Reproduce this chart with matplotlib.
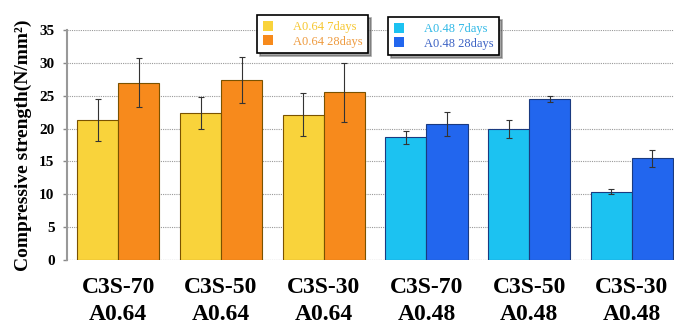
import matplotlib
matplotlib.use("Agg")
import matplotlib.pyplot as plt
import numpy as np
from matplotlib.patches import Patch

categories = ["C3S-70\nA0.64", "C3S-50\nA0.64", "C3S-30\nA0.64",
              "C3S-70\nA0.48", "C3S-50\nA0.48", "C3S-30\nA0.48"]
days7 = [21.3, 22.4, 22.1, 18.7, 19.9, 10.4]
days7_err = [3.2, 2.4, 3.3, 1.0, 1.4, 0.4]
days28 = [27.0, 27.4, 25.5, 20.7, 24.5, 15.5]
days28_err = [3.7, 3.5, 4.5, 1.8, 0.5, 1.3]
yticks = [0, 5, 10, 15, 20, 25, 30, 35]

c_yellow, c_orange = "#F9D33B", "#F78A1C"
c_cyan, c_blue = "#1CC2F1", "#2266EE"
edge_warm, edge_cool = "#7A5200", "#1A3A80"

plt.rcParams['font.family'] = ['Liberation Serif', 'DejaVu Serif']
fig = plt.figure(figsize=(6.74, 3.25), dpi=100)
ax = fig.add_axes([67/674, 1-260/325, 1-67/674, 230/325])

x = np.arange(len(categories))
w = 0.4
c7 = [c_yellow]*3 + [c_cyan]*3
c28 = [c_orange]*3 + [c_blue]*3
ec = [edge_warm]*3 + [edge_cool]*3
ekw = dict(ecolor="#333333", elinewidth=0.8, capsize=2, capthick=0.8)
ax.bar(x - w/2, days7, w, color=c7, edgecolor=ec, linewidth=0.8,
       yerr=days7_err, error_kw=ekw, zorder=3)
ax.bar(x + w/2, days28, w, color=c28, edgecolor=ec, linewidth=0.8,
       yerr=days28_err, error_kw=ekw, zorder=3)

ax.set_xlim(-0.5, 5.41)
ax.set_ylim(0, 35)
ax.set_yticks(yticks)
ax.set_yticklabels([str(t) for t in yticks], fontsize=11, fontweight='bold')
ax.set_xticks(x)
ax.set_xticklabels(categories, fontsize=17, fontweight='bold', linespacing=1.4)
ax.tick_params(axis='x', length=0, pad=12)
ax.tick_params(axis='y', length=3, color='#888888', width=1, pad=6)
for s in ['top', 'right', 'bottom']:
    ax.spines[s].set_visible(False)
ax.spines['left'].set_color('#999999')
ax.spines['left'].set_linewidth(1.5)
ax.yaxis.grid(True, linestyle=(0, (1, 1)), color='#999999', linewidth=0.8, zorder=0)
ax.axhline(0, linestyle=(0, (1, 1)), color='#999999', linewidth=0.8, zorder=0)
ax.set_axisbelow(True)
ax.set_ylabel("Compressive strength(N/mm²)", fontsize=14, fontweight='bold', labelpad=5)

leg_kw = dict(loc='upper left', bbox_transform=ax.transAxes, fontsize=9,
              frameon=True, fancybox=False, shadow=True, edgecolor='black',
              framealpha=1, handlelength=0.8, handleheight=0.9,
              handletextpad=1.6, borderpad=0.45, labelspacing=0.15,
              borderaxespad=0)
h1 = [Patch(facecolor=c_yellow), Patch(facecolor=c_orange)]
leg1 = ax.legend(h1, ["A0.64 7days", "A0.64 28days"],
                 bbox_to_anchor=((257-67)/607, (260-15)/230), **leg_kw)
for t, c in zip(leg1.get_texts(), ["#F6C62E", "#EE9A3E"]):
    t.set_color(c)
ax.add_artist(leg1)
h2 = [Patch(facecolor=c_cyan), Patch(facecolor=c_blue)]
leg2 = ax.legend(h2, ["A0.48 7days", "A0.48 28days"],
                 bbox_to_anchor=((388-67)/607, (260-17)/230), **leg_kw)
for t, c in zip(leg2.get_texts(), ["#2FB8E6", "#3C62C4"]):
    t.set_color(c)
for lg in (leg1, leg2):
    lg.get_frame().set_linewidth(1.2)

fig.savefig("out.png", dpi=100)
